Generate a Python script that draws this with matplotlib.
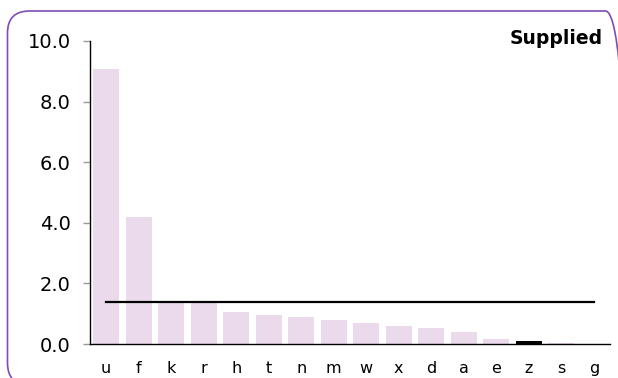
import numpy as np
import matplotlib
matplotlib.use("Agg")
import matplotlib.pyplot as plt
from matplotlib.patches import FancyBboxPatch
from matplotlib.transforms import IdentityTransform

# category codes and their values, sorted high to low
codes = ["u", "f", "k", "r", "h", "t", "n", "m", "w", "x", "d", "a", "e", "z", "s", "g"]
values = [9.07, 4.20, 1.38, 1.36, 1.06, 0.96, 0.89, 0.79, 0.70, 0.60, 0.54, 0.41, 0.15, 0.10, 0.03, 0.0]
highlight = "z"
average = 1.38
yticks = [0.0, 2.0, 4.0, 6.0, 8.0, 10.0]

bar_color = "#ebd9ec"
frame_color = "#7f4cb5"

plt.rcParams["font.family"] = ["DejaVu Sans"]

fig = plt.figure(figsize=(6.18, 3.78), dpi=100)
ax = fig.add_axes([90 / 618, 1 - 344 / 378, 520 / 618, 303 / 378])

x = np.arange(len(codes))
colors = ["black" if c == highlight else bar_color for c in codes]
ax.bar(x, values, width=0.8, color=colors, zorder=2)

# average line across the categories
ax.plot([x[0], x[-1]], [average, average], color="black", linewidth=1.6, zorder=3)

ax.set_xlim(-0.5, len(codes) - 0.5)
ax.set_ylim(0, 10)
ax.set_yticks(yticks)
ax.set_yticklabels(["%.1f" % v for v in yticks], fontsize=14)
ax.set_xticks(x)
ax.set_xticklabels(codes, fontsize=11.5)

ax.tick_params(axis="x", length=0, pad=12)
ax.tick_params(axis="y", length=5, width=1, color="#999999", pad=9)

for side in ["top", "right"]:
    ax.spines[side].set_visible(False)
ax.spines["left"].set_linewidth(1.0)
ax.spines["bottom"].set_linewidth(1.0)

fig.text(603 / 618, 1 - 44 / 378, "Supplied", ha="right", va="baseline",
         fontsize=13.5, fontweight="bold")

# rounded frame round the panel
frame = FancyBboxPatch((7.5, -7), 620, 374,
                       boxstyle="round,pad=0,rounding_size=22",
                       transform=IdentityTransform(), fill=False,
                       edgecolor=frame_color, linewidth=1.2)
fig.add_artist(frame)

fig.savefig("out.png", dpi=100)
